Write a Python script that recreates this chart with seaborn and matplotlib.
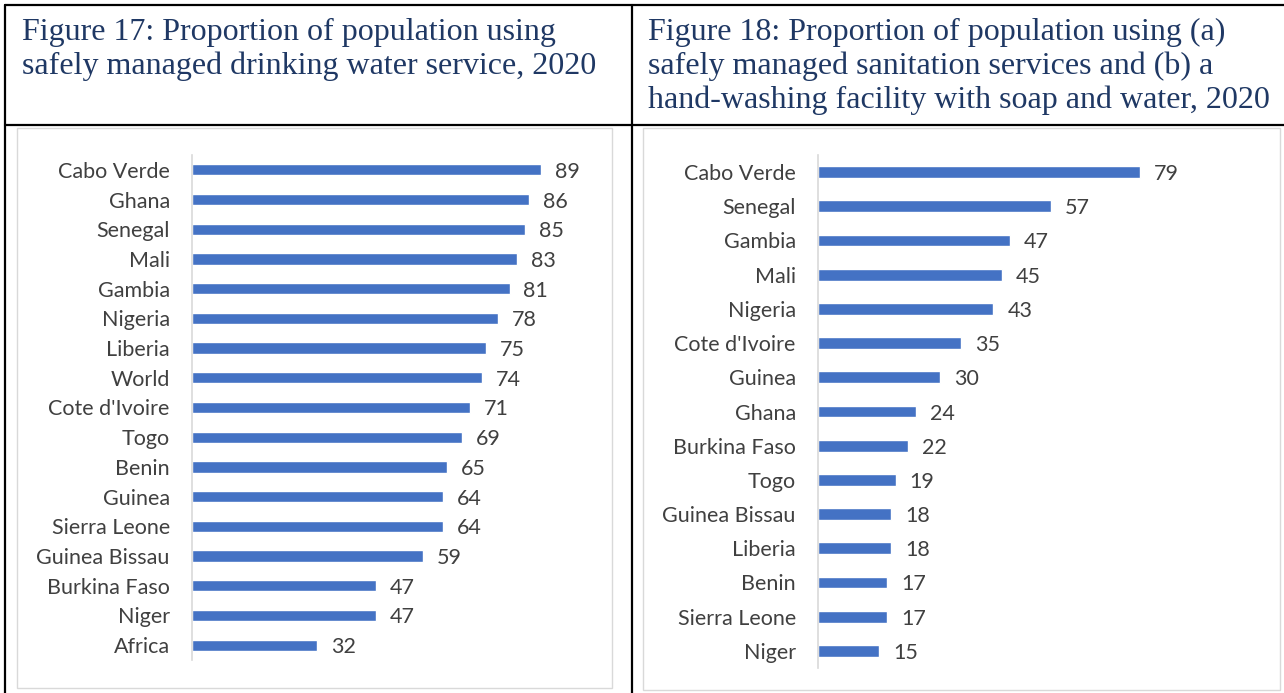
import matplotlib
matplotlib.use("Agg")
import matplotlib.pyplot as plt
import seaborn as sns
from matplotlib.lines import Line2D
from matplotlib.patches import Rectangle

# Figure 17 data
water_countries = ['Cabo Verde', 'Ghana', 'Senegal', 'Mali', 'Gambia', 'Nigeria', 'Liberia',
                   'World', "Cote d'Ivoire", 'Togo', 'Benin', 'Guinea', 'Sierra Leone',
                   'Guinea Bissau', 'Burkina Faso', 'Niger', 'Africa']
water_values = [89, 86, 85, 83, 81, 78, 75, 74, 71, 69, 65, 64, 64, 59, 47, 47, 32]

# Figure 18 data
sanit_countries = ['Cabo Verde', 'Senegal', 'Gambia', 'Mali', 'Nigeria', "Cote d'Ivoire",
                   'Guinea', 'Ghana', 'Burkina Faso', 'Togo', 'Guinea Bissau', 'Liberia',
                   'Benin', 'Sierra Leone', 'Niger']
sanit_values = [79, 57, 47, 45, 43, 35, 30, 24, 22, 19, 18, 18, 17, 17, 15]

title_17 = ["Figure 17: Proportion of population using",
            "safely managed drinking water service, 2020"]
title_18 = ["Figure 18: Proportion of population using (a)",
            "safely managed sanitation services and (b) a",
            "hand-washing facility with soap and water, 2020"]

BAR = '#4472C4'
TXT = '#404040'
GRID = '#D9D9D9'
TITLE = '#1F3864'

sns.set_style('white')
plt.rcParams['font.family'] = ['Lato', 'DejaVu Sans']

W, H = 1284, 693
fig = plt.figure(figsize=(W / 100, H / 100), dpi=100)


def fx(px):
    return px / W


def fy(py):
    return 1 - py / H


# table lines
for x0, y0, x1, y1 in [(5, 5, W, 5), (5, 125, W, 125), (5, 5, 5, H), (632, 5, 632, H)]:
    fig.add_artist(Line2D([fx(x0), fx(x1)], [fy(y0), fy(y1)], color='black', lw=1.6,
                          transform=fig.transFigure))

# chart frames
for x0, y0, x1, y1 in [(17, 128, 612, 688), (643, 128, 1280, 690)]:
    fig.add_artist(Rectangle((fx(x0), fy(y1)), fx(x1 - x0), (y1 - y0) / H, fill=False,
                             edgecolor=GRID, lw=1, transform=fig.transFigure))

# titles, one line at a time
for x0, lines in [(22, title_17), (648, title_18)]:
    for i, line in enumerate(lines):
        fig.text(fx(x0), fy(32 + 34 * i), line, family='Liberation Serif', fontsize=23,
                 color=TITLE, va='center', ha='left')


def draw(ax, cats, vals, width):
    sns.barplot(x=vals, y=cats, orient='h', color=BAR, width=width, ax=ax, saturation=1)
    ax.set_xlim(0, 100)
    ax.set_ylim(len(cats) - 0.5, -0.5)
    for c in ax.containers:
        for t in ax.bar_label(c, padding=10, fontsize=15.5, color=TXT):
            t.set_verticalalignment('center_baseline')
    for s in ['top', 'right', 'bottom']:
        ax.spines[s].set_visible(False)
    ax.spines['left'].set_color(GRID)
    ax.spines['left'].set_linewidth(1.2)
    ax.set_xticks([])
    ax.tick_params(axis='y', length=0, pad=16, labelsize=15.5, labelcolor=TXT)
    ax.set_xlabel('')
    ax.set_ylabel('')
    ax.patch.set_alpha(0)


ax1 = fig.add_axes([fx(192), fy(660), fx(392), 505 / H])
draw(ax1, water_countries, water_values, 0.38)

ax2 = fig.add_axes([fx(818), fy(668), fx(408), 513 / H])
draw(ax2, sanit_countries, sanit_values, 0.34)

fig.savefig('out.png', dpi=100)
